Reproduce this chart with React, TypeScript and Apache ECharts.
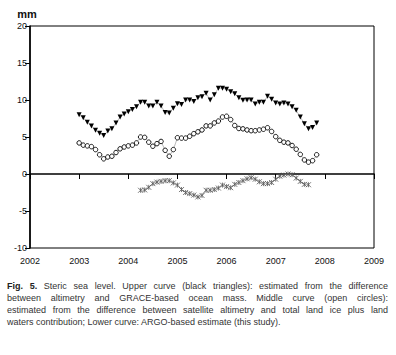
import React, { useEffect, useRef } from "react";
import * as echarts from "echarts";

// Monthly values, first month = January 2003
const START_YEAR = 2003;
const upperValues = [
  8.0, 7.6, 7.0, 6.5, 5.9, 5.5, 5.2, 5.8, 6.1, 6.9, 7.7, 8.1,
  8.4, 8.7, 9.1, 9.7, 9.7, 9.2, 9.2, 9.7, 9.2, 8.3, 8.25, 8.9,
  9.5, 9.4, 10.0, 10.0, 9.8, 10.3, 10.45, 10.9, 10.0, 10.7, 11.6, 11.6,
  11.45, 11.1, 10.85, 10.3, 9.95, 10.0, 10.0, 9.45, 9.7, 9.7, 10.5, 10.1,
  9.6, 9.45, 9.6, 9.45, 9.1, 8.6, 7.7, 6.8, 6.1, 6.3, 6.9,
];
const middleValues = [
  4.2, 3.9, 3.8, 3.7, 3.3, 2.6, 2.05, 2.3, 2.4, 2.9, 3.4, 3.65,
  3.8, 3.9, 4.2, 5.0, 4.95, 4.3, 3.75, 4.1, 4.4, 3.2, 2.4, 3.3,
  4.9, 4.85, 4.85, 5.1, 5.45, 5.7, 5.95, 6.5, 6.5, 6.9, 7.15, 7.7,
  7.8, 7.35, 6.55, 6.15, 6.1, 5.95, 5.85, 5.85, 5.95, 6.05, 6.25, 5.75,
  5.05, 4.55, 4.3, 4.2, 3.85, 3.35, 2.65, 1.9, 1.6, 1.8, 2.6,
];
// ARGO series starts at month index 15 (April 2004)
const LOWER_START = 15;
const lowerValues = [
  -2.2, -2.15, -1.8, -1.3, -1.1, -1.0, -0.9, -0.9, -1.2, -1.5, -2.1, -2.5,
  -2.65, -2.85, -3.1, -2.9, -2.2, -2.2, -2.1, -1.9, -1.5, -1.7, -1.85, -1.4,
  -1.15, -0.9, -0.65, -0.5, -0.7, -1.05, -1.3, -1.3, -1.15, -0.7, -0.3, -0.15,
  0.0, -0.1, -0.55, -1.0, -1.4, -1.45,
];

const X_MIN = 2002;
const X_MAX = 2009;
const Y_MIN = -10;
const Y_MAX = 20;
const Y_UNIT = "mm";

const captionLines = [
  "Steric sea level. Upper curve (black triangles): estimated from the difference",
  "between altimetry and GRACE-based ocean mass. Middle curve (open circles):",
  "estimated from the difference between satellite altimetry and total land ice plus land",
  "waters contribution; Lower curve: ARGO-based estimate (this study).",
];
const captionLabel = "Fig. 5.";

const toPairs = (vals: number[], start: number) =>
  vals.map((v, i) => [START_YEAR + (start + i) / 12, v]);

export default function App() {
  const ref = useRef<HTMLDivElement>(null);
  useEffect(() => {
    if (!ref.current) return;
    const chart = echarts.init(ref.current, null, { renderer: "svg" });
    const lineStyle = { color: "#8a8a8a", width: 0.6 };
    chart.setOption({
      animation: false,
      backgroundColor: "#fff",
      grid: {
        left: 30,
        right: 22,
        top: 26,
        bottom: 107,
        show: true,
        borderColor: "#000",
        borderWidth: 1,
      },
      xAxis: {
        type: "value",
        min: X_MIN,
        max: X_MAX,
        interval: 1,
        axisLine: { show: true, lineStyle: { color: "#000", width: 1.6 } },
        axisTick: { show: true, inside: false, length: 5, lineStyle: { color: "#000", width: 1 } },
        axisLabel: {
          color: "#111",
          fontSize: 9,
          fontFamily: "Liberation Sans, Arial, sans-serif",
          margin: 8,
          formatter: (v: number) => String(v),
        },
        splitLine: { show: false },
      },
      yAxis: {
        type: "value",
        min: Y_MIN,
        max: Y_MAX,
        interval: 5,
        name: Y_UNIT,
        nameLocation: "end",
        nameGap: 7,
        nameTextStyle: {
          color: "#111",
          fontSize: 11,
          fontWeight: "bold",
          fontFamily: "Liberation Sans, Arial, sans-serif",
          align: "center",
          padding: [0, 6, 0, 0],
        },
        axisLine: { show: true, lineStyle: { color: "#000", width: 1.6 } },
        axisTick: { show: true, inside: false, length: 5, lineStyle: { color: "#000", width: 1 } },
        axisLabel: {
          color: "#111",
          fontSize: 9,
          fontFamily: "Liberation Sans, Arial, sans-serif",
          margin: 3,
        },
        splitLine: { show: false },
      },
      series: [
        {
          type: "line",
          data: toPairs(upperValues, 0),
          symbol: "triangle",
          symbolRotate: 180,
          symbolSize: 5,
          lineStyle,
          itemStyle: { color: "#000" },
        },
        {
          type: "line",
          data: toPairs(middleValues, 0),
          symbol: "circle",
          symbolSize: 4.5,
          lineStyle,
          itemStyle: { color: "#fff", borderColor: "#000", borderWidth: 0.9 },
        },
        {
          type: "line",
          data: toPairs(lowerValues, LOWER_START),
          symbol: "path://M0,0L10,10M10,0L0,10M5,0L5,10",
          symbolSize: 5,
          lineStyle,
          itemStyle: { color: "none", borderColor: "#555", borderWidth: 0.8 },
        },
      ],
    });
    return () => chart.dispose();
  }, []);

  const lineStyleBase: React.CSSProperties = {
    textAlign: "justify",
    textAlignLast: "justify",
    whiteSpace: "nowrap",
    height: 12,
    lineHeight: "12px",
  };

  return (
    <div
      style={{
        position: "fixed",
        left: 0,
        top: 0,
        width: 396,
        height: 355,
        background: "#fff",
        overflow: "hidden",
      }}
    >
      <div ref={ref} style={{ position: "absolute", left: 0, top: 0, width: 396, height: 355 }} />
      <div
        style={{
          position: "absolute",
          left: 7,
          top: 280,
          width: 381,
          fontFamily: "Liberation Sans, Arial, sans-serif",
          fontSize: 9,
          color: "#333",
        }}
      >
        {captionLines.map((line, i) => (
          <div
            key={i}
            style={{
              ...lineStyleBase,
              whiteSpace: "normal",
              textAlignLast: i === captionLines.length - 1 ? "left" : "justify",
            }}
          >
            {i === 0 ? (
              <>
                <b style={{ color: "#222" }}>{captionLabel}</b> {line}
              </>
            ) : (
              line
            )}
          </div>
        ))}
      </div>
    </div>
  );
}
